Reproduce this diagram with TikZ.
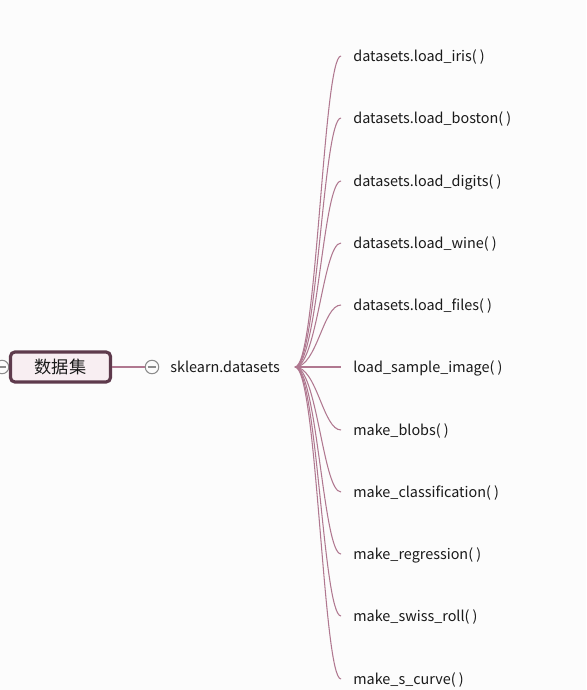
\documentclass[tikz,border=0pt]{standalone}
\usepackage{fontspec}
\setmainfont{Noto Sans CJK SC}
\usetikzlibrary{positioning}
\definecolor{paper}{HTML}{FCFCFC}
\definecolor{rootfill}{HTML}{F8EEF2}
\definecolor{rootline}{HTML}{5E3A4C}
\definecolor{edge}{HTML}{B07890}
\definecolor{knob}{HTML}{8C8C8C}
\definecolor{ink}{HTML}{1A1A1A}
\newcommand{\emptyargs}{(\hspace{0.22em})}
\tikzset{
  root/.style={draw=rootline, line width=1.8pt, fill=rootfill, rounded corners=2.5pt, minimum width=2.0cm, minimum height=0.6cm, inner sep=0pt, font=\fontsize{9.8}{11}\selectfont, text=ink},
  leaf/.style={anchor=west, inner sep=0pt, text height=1.5ex, text depth=0.4ex, font=\fontsize{8.2}{10}\selectfont, text=ink},
  knobc/.style={circle, draw=knob, fill=paper, line width=0.6pt, minimum size=0.27cm, inner sep=0pt,
    path picture={\draw[knob, line width=0.6pt] ([xshift=1.3pt]path picture bounding box.west) -- ([xshift=-1.3pt]path picture bounding box.east);}},
  link/.style={edge, line width=0.6pt},
}
\begin{document}
\begin{tikzpicture}[x=0.02cm, y=-0.02cm]
  \fill[paper] (0,0) rectangle (586,690);
  \useasboundingbox (0,0) rectangle (586,690);
  % root and its knobs
  \node[knobc] (k0) at (2,367) {};
  \node[root] (root) at (60.5,367) {数据集};
  \node[knobc] (k1) at (152,367) {};
  \draw[link] (root.east) -- (k1.west);
  \node[leaf] (sk) at (170,367) {sklearn.datasets};
  \coordinate (hub) at (295,367);
  % children (y in px from the top)
  \foreach \i/\y/\t in {1/56/{datasets.load\_iris\emptyargs}, 2/118/{datasets.load\_boston\emptyargs},
      3/181/{datasets.load\_digits\emptyargs}, 4/243/{datasets.load\_wine\emptyargs},
      5/305/{datasets.load\_files\emptyargs}, 6/367/{load\_sample\_image\emptyargs},
      7/430/{make\_blobs\emptyargs}, 8/492/{make\_classification\emptyargs},
      9/554/{make\_regression\emptyargs}, 10/616/{make\_swiss\_roll\emptyargs},
      11/679/{make\_s\_curve\emptyargs}} {
    \node[leaf] (c\i) at (353,\y) {\t};
    \draw[link] (hub) .. controls +(22,0) and +(-18,0) .. ([xshift=-0.24cm]c\i.west);
  }
\end{tikzpicture}
\end{document}
